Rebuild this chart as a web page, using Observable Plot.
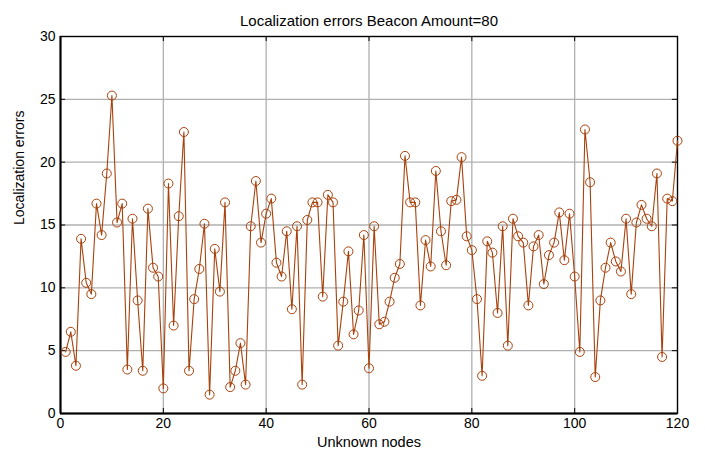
<!DOCTYPE html>
<html>
<head>
<meta charset="utf-8">
<script src="https://cdn.jsdelivr.net/npm/d3@7"></script>
<script src="https://cdn.jsdelivr.net/npm/@observablehq/plot@0.6"></script>
<style>
  html, body { margin: 0; padding: 0; background: #ffffff; }
  #chart svg { display: block; }
</style>
</head>
<body>
<div id="chart"></div>
<script>
// Localization error of each unknown node (80 beacons)
const nodes = d3.range(1, 121);
const errors = [
  4.9, 6.5, 3.8, 13.9, 10.4, 9.5, 16.7, 14.2, 19.1, 25.3,
  15.2, 16.7, 3.5, 15.5, 9.0, 3.4, 16.3, 11.6, 10.9, 2.0,
  18.3, 7.0, 15.7, 22.4, 3.4, 9.1, 11.5, 15.1, 1.5, 13.1,
  9.7, 16.8, 2.1, 3.4, 5.6, 2.3, 14.9, 18.5, 13.6, 15.9,
  17.1, 12.0, 10.9, 14.5, 8.3, 14.9, 2.3, 15.4, 16.8, 16.8,
  9.3, 17.4, 16.8, 5.4, 8.9, 12.9, 6.3, 8.2, 14.2, 3.6,
  14.9, 7.1, 7.3, 8.9, 10.8, 11.9, 20.5, 16.8, 16.8, 8.6,
  13.8, 11.7, 19.3, 14.5, 11.8, 16.9, 17.0, 20.4, 14.1, 13.0,
  9.1, 3.0, 13.7, 12.8, 8.0, 14.9, 5.4, 15.5, 14.1, 13.6,
  8.6, 13.3, 14.2, 10.3, 12.6, 13.6, 16.0, 12.2, 15.9, 10.9,
  4.9, 22.6, 18.4, 2.9, 9.0, 11.6, 13.6, 12.1, 11.3, 15.5,
  9.5, 15.2, 16.6, 15.5, 14.9, 19.1, 4.5, 17.1, 16.9, 21.7
];
const xTicks = [0, 20, 40, 60, 80, 100, 120];
const yTicks = [0, 5, 10, 15, 20, 25, 30];
const xGrid = [20, 40, 60, 80, 100];
const yGrid = [5, 10, 15, 20, 25];

const title = "Localization errors Beacon Amount=80";
const xLabel = "Unknown nodes";
const yLabel = "Localization errors";

const data = nodes.map((n, i) => ({node: n, error: errors[i]}));
const seriesColor = "#a8420c";
const font = "'Liberation Sans', Arial, Helvetica, sans-serif";

const chart = Plot.plot({
  width: 705,
  height: 453,
  marginLeft: 60,
  marginRight: 28,
  marginTop: 36,
  marginBottom: 40,
  style: {fontFamily: font, fontSize: "14px", color: "#000", background: "#fff"},
  x: {domain: [0, 120]},
  y: {domain: [0, 30]},
  marks: [
    // grid
    Plot.ruleX(xGrid, {stroke: "#b0b0b0", strokeWidth: 1.3}),
    Plot.ruleY(yGrid, {stroke: "#b0b0b0", strokeWidth: 1.3}),
    // inward tick marks on all four sides
    Plot.ruleY(yTicks, {x1: 0, x2: 1, stroke: "#000", strokeWidth: 1}),
    Plot.ruleY(yTicks, {x1: 119, x2: 120, stroke: "#000", strokeWidth: 1}),
    Plot.ruleX(xTicks, {y1: 0, y2: 0.4, stroke: "#000", strokeWidth: 1}),
    Plot.ruleX(xTicks, {y1: 29.6, y2: 30, stroke: "#000", strokeWidth: 1}),
    // axes
    Plot.axisX(xTicks, {tickSize: 0, tickPadding: 5, fontSize: 14, label: null}),
    Plot.axisY(yTicks, {tickSize: 0, tickPadding: 5, fontSize: 14, label: null}),
    Plot.frame({stroke: "#000", strokeWidth: 1.4}),
    Plot.ruleY([0], {stroke: "#000", strokeWidth: 2}),
    Plot.ruleX([0], {stroke: "#000", strokeWidth: 2}),
    // series
    Plot.line(data, {x: "node", y: "error", stroke: seriesColor, strokeWidth: 1.1}),
    Plot.dot(data, {x: "node", y: "error", r: 4.5, stroke: seriesColor, strokeWidth: 1, fill: "none"}),
    // titles
    Plot.text([title], {frameAnchor: "top", dy: -21, fontSize: 15, text: d => d}),
    Plot.text([xLabel], {frameAnchor: "bottom", dy: 33, fontSize: 14.5, text: d => d}),
    Plot.text([yLabel], {frameAnchor: "left", dx: -41, rotate: -90, fontSize: 14, text: d => d})
  ]
});
document.getElementById("chart").append(chart);
</script>
</body>
</html>
